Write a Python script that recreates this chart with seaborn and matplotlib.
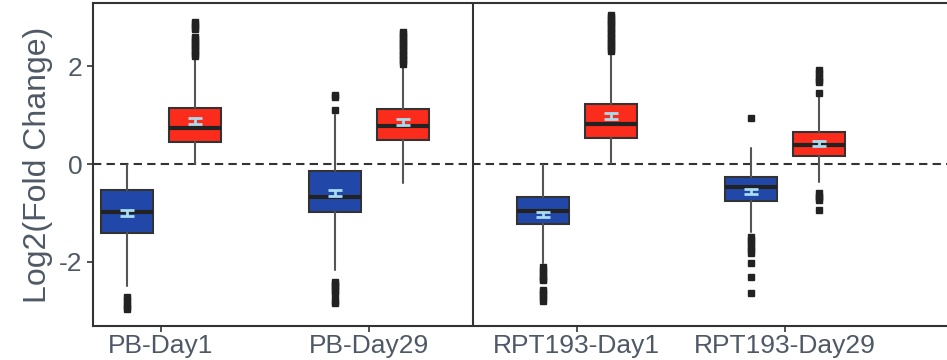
import numpy as np
import matplotlib
matplotlib.use("Agg")
import matplotlib.pyplot as plt
import seaborn as sns

# Groups (x axis) and the two box series per group
groups = ["PB-Day1", "PB-Day29", "RPT193-Day1", "RPT193-Day29"]
series = ["down", "up"]
colors = {"down": "#2148a8", "up": "#fb2c1c"}

# box statistics, one entry per group
down_q1 = [-1.41, -0.97, -1.23, -0.75]
down_med = [-0.98, -0.67, -0.95, -0.47]
down_q3 = [-0.53, -0.14, -0.67, -0.26]
down_wlo = [-2.50, -2.16, -2.03, -1.38]
down_whi = [-0.02, 1.00, -0.03, 0.33]
down_mean = [-1.00, -0.60, -1.03, -0.56]
down_fliers = [
    [-2.72, -2.78, -2.85, -2.92, -2.95],
    [1.10, 1.37, 1.40, -2.40, -2.45, -2.50, -2.55, -2.60, -2.67, -2.80, -2.84],
    [-2.10, -2.16, -2.22, -2.28, -2.34, -2.37, -2.57, -2.62, -2.68, -2.74, -2.80],
    [0.93, -1.48, -1.55, -1.62, -1.70, -1.76, -1.82, -2.03, -2.30, -2.64],
]

up_q1 = [0.45, 0.49, 0.53, 0.17]
up_med = [0.74, 0.78, 0.81, 0.38]
up_q3 = [1.14, 1.12, 1.22, 0.65]
up_wlo = [0.00, -0.39, 0.02, -0.36]
up_whi = [2.16, 2.00, 2.26, 1.40]
up_mean = [0.88, 0.86, 0.98, 0.42]
up_fliers = [
    [2.20, 2.25, 2.30, 2.35, 2.40, 2.45, 2.50, 2.55, 2.60, 2.75, 2.80, 2.85, 2.90],
    [2.05, 2.10, 2.15, 2.20, 2.25, 2.30, 2.35, 2.40, 2.45, 2.50, 2.55, 2.60, 2.65, 2.70],
    [2.30, 2.35, 2.40, 2.45, 2.50, 2.55, 2.60, 2.65, 2.70, 2.75, 2.80, 2.85, 2.90, 2.95, 3.00, 3.05],
    [1.44, 1.67, 1.72, 1.78, 1.85, 1.92, -0.60, -0.65, -0.70, -0.73, -0.94],
]

stats = {
    "down": (down_q1, down_med, down_q3, down_wlo, down_whi, down_mean, down_fliers),
    "up": (up_q1, up_med, up_q3, up_wlo, up_whi, up_mean, up_fliers),
}

sns.set_theme(style="ticks")
plt.rcParams["font.family"] = ["Liberation Sans", "DejaVu Sans"]
plt.rcParams["axes.unicode_minus"] = False

line_col = "#333333"
text_col = "#4f5966"

fig = plt.figure(figsize=(9.47, 3.6), dpi=100)
ax = fig.add_axes([0.098, 0.094, 0.902, 0.898])

offsets = {"down": -0.163, "up": 0.163}
box_w = 0.25
x = np.arange(len(groups))

for s in series:
    q1, med, q3, wlo, whi, mean, fl = stats[s]
    bstats = []
    for i in range(len(groups)):
        bstats.append(dict(q1=q1[i], med=med[i], q3=q3[i], whislo=wlo[i],
                           whishi=whi[i], fliers=fl[i], label=groups[i]))
    ax.bxp(bstats, positions=x + offsets[s], widths=box_w, patch_artist=True,
           showcaps=False, manage_ticks=False,
           boxprops=dict(facecolor=colors[s], edgecolor=line_col, linewidth=1.5),
           medianprops=dict(color="#222222", linewidth=3),
           whiskerprops=dict(color="#555555", linewidth=1.5),
           flierprops=dict(marker="s", markersize=4, markerfacecolor="#222222",
                           markeredgecolor="#222222"),
           zorder=3)
    ax.errorbar(x + offsets[s], mean, yerr=0.06, fmt="none", ecolor="#a8dcee",
                elinewidth=2, capsize=5, capthick=2, zorder=5)

ax.axhline(0, color=line_col, linestyle=(0, (4, 2.5)), linewidth=1.5, zorder=2)
ax.axvline(1.5, color=line_col, linewidth=1.5, zorder=2)

ax.set_xlim(-0.327, 3.78)
ax.set_ylim(-3.31, 3.29)
ax.set_xticks(x)
ax.set_xticklabels(groups)
ax.set_yticks([-2, 0, 2])
ax.set_xlabel("")
ax.set_ylabel("Log2(Fold Change)", fontsize=23, color=text_col, labelpad=4)
ax.tick_params(axis="both", labelsize=19, colors=line_col, labelcolor=text_col,
               width=1.2, length=4)
ax.tick_params(axis="x", pad=2)

for side in ["left", "bottom", "top"]:
    ax.spines[side].set_color(line_col)
    ax.spines[side].set_linewidth(1.5)
ax.spines["right"].set_visible(False)
ax.spines["top"].set_visible(True)

fig.savefig("out.png", dpi=100)
